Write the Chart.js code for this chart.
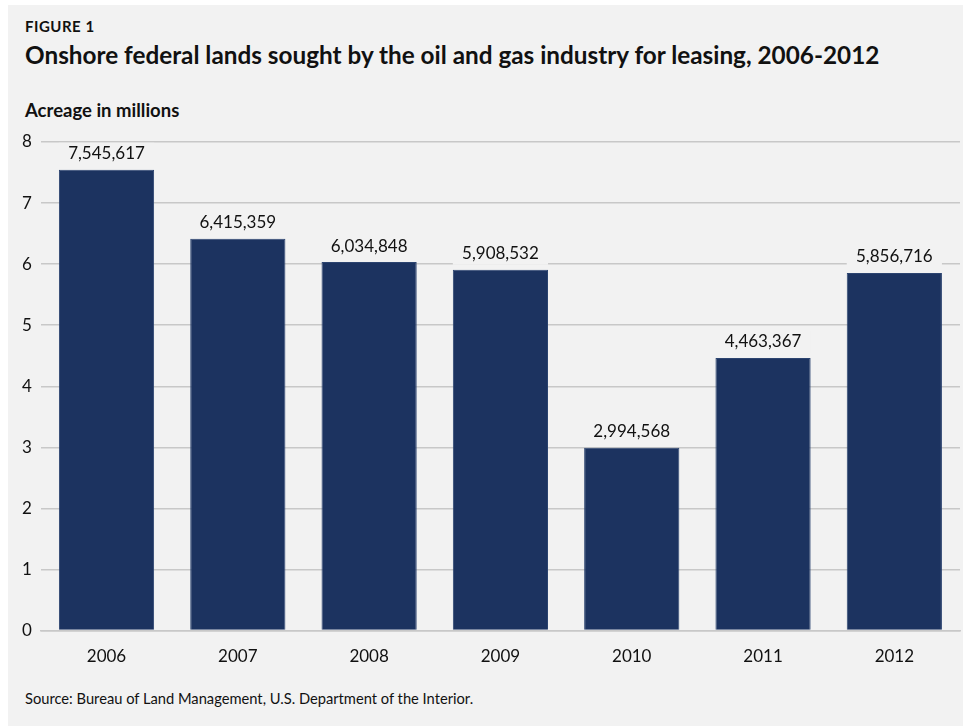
<!DOCTYPE html>
<html>
<head>
<meta charset="utf-8">
<script src="https://cdn.jsdelivr.net/npm/chart.js@4.4.1/dist/chart.umd.min.js"></script>
<style>
  body { margin: 0; background: #fff; font-family: Lato, "Open Sans", sans-serif; }
  #panel { position: absolute; left: 8px; top: 5px; width: 955px; height: 721px; background: #f2f2f2; }
  .txt { position: absolute; left: 25px; color: #111; white-space: nowrap; }
  #fig { top: 17px; font-size: 15px; font-weight: bold; letter-spacing: 0.5px; }
  #title { top: 40px; font-size: 24.3px; font-weight: bold; }
  #unit { top: 99px; font-size: 18.5px; font-weight: bold; }
  #source { top: 689px; font-size: 14.7px; }
  #chart { position: absolute; left: 0; top: 0; }
</style>
</head>
<body>
<div id="panel"></div>
<div class="txt" id="fig">FIGURE 1</div>
<div class="txt" id="title">Onshore federal lands sought by the oil and gas industry for leasing, 2006-2012</div>
<div class="txt" id="unit">Acreage in millions</div>
<div class="txt" id="source">Source: Bureau of Land Management, U.S. Department of the Interior.</div>
<canvas id="chart" width="963" height="726"></canvas>
<script>
const years = ['2006', '2007', '2008', '2009', '2010', '2011', '2012'];
const acres = [7545617, 6415359, 6034848, 5908532, 2994568, 4463367, 5856716];
const yTicks = [0, 1, 2, 3, 4, 5, 6, 7, 8];

const acresMillions = acres.map(v => v / 1e6);

// value labels above bars, with a small mask so gridlines don't run through them
const barLabels = {
  id: 'barLabels',
  afterDatasetsDraw(chart) {
    const ctx = chart.ctx;
    const meta = chart.getDatasetMeta(0);
    ctx.save();
    ctx.font = '17px Lato, "Open Sans", sans-serif';
    ctx.textAlign = 'center';
    ctx.textBaseline = 'middle';
    meta.data.forEach((bar, i) => {
      const y = bar.y - 16;
      ctx.fillStyle = '#f2f2f2';
      ctx.fillRect(bar.x - bar.width / 2, y - 11, bar.width, 22);
      ctx.fillStyle = '#111';
      ctx.fillText(acres[i].toLocaleString('en-US'), bar.x, y);
    });
    ctx.restore();
  }
};

new Chart(document.getElementById('chart'), {
  type: 'bar',
  data: {
    labels: years,
    datasets: [{
      data: acresMillions,
      backgroundColor: '#1c3360',
      borderColor: '#2c4470',
      borderWidth: 1,
      barPercentage: 0.725,
      categoryPercentage: 1
    }]
  },
  options: {
    responsive: false,
    animation: false,
    layout: { padding: { left: 13, right: 3, top: 142, bottom: 51 } },
    plugins: { legend: { display: false }, tooltip: { enabled: false } },
    scales: {
      x: {
        grid: { display: false },
        border: { color: '#c8c8c8', width: 1.5 },
        ticks: { color: '#111', font: { family: 'Lato', size: 17 }, padding: 8 }
      },
      y: {
        min: 0,
        max: 8,
        afterBuildTicks: axis => { axis.ticks = yTicks.map(v => ({ value: v })); },
        grid: { color: '#c8c8c8', lineWidth: 1.5, drawTicks: false },
        border: { display: false },
        ticks: { color: '#111', font: { family: 'Lato', size: 17 }, padding: 9 }
      }
    }
  },
  plugins: [barLabels]
});
</script>
</body>
</html>
